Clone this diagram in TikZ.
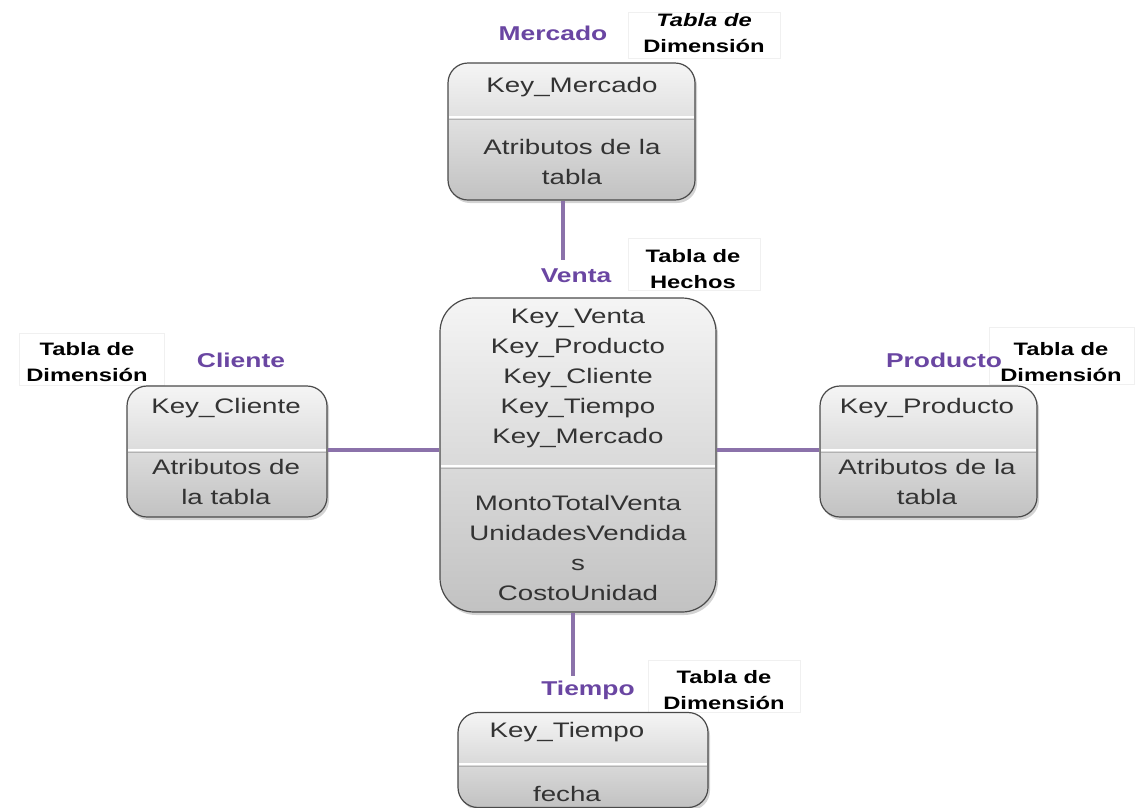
\documentclass[tikz,border=0pt]{standalone}
\usepackage{fontspec}
\setmainfont{Liberation Sans}
\newfontfamily\boxfont[FakeStretch=1.32]{Liberation Sans}
\usetikzlibrary{shadows}
\definecolor{boxtxt}{HTML}{333333}
\definecolor{purplelbl}{HTML}{6A46A2}
\definecolor{conn}{HTML}{8B72AA}
\definecolor{boxedge}{HTML}{4A4A4A}
\tikzset{
  tbl/.style={draw=boxedge, line width=1.2pt, rounded corners=20pt,
    top color=black!4, bottom color=black!24, inner sep=0pt,
    drop shadow={opacity=0.35, shadow xshift=2pt, shadow yshift=-3pt}},
  tt/.style={font=\boxfont\fontsize{21}{30}\selectfont, text=boxtxt, inner sep=0pt, align=center},
  plbl/.style={font=\boxfont\fontsize{20}{24}\selectfont\bfseries, text=purplelbl, inner sep=0pt},
  kind/.style={font=\boxfont\fontsize{18}{26.5}\selectfont\bfseries, text=black, inner sep=0pt, align=center},
  kindbox/.style={draw=black!6, fill=white, line width=0.6pt},
  divw/.style={white, line width=2.5pt},
  divg/.style={black!30, line width=0.6pt},
  link/.style={conn, line width=4pt}
}
\begin{document}
\begin{tikzpicture}[x=1pt,y=-1pt]
\useasboundingbox (0,0) rectangle (1135,807);
% faint label boxes
\node[kindbox, minimum width=152, minimum height=46] (kbm) at (704,35) {};
\node[kindbox, minimum width=132, minimum height=52] (kbv) at (694,264) {};
\node[kindbox, minimum width=145, minimum height=52] (kbc) at (92,359) {};
\node[kindbox, minimum width=145, minimum height=57] (kbp) at (1062,356) {};
\node[kindbox, minimum width=152, minimum height=52] (kbt) at (724,686) {};
% connector end points
\coordinate (vtop) at (563,260);
\coordinate (tbot) at (573,676);
% tables
\node[tbl, minimum width=247, minimum height=137] (mer) at (571.5,131.5) {};
\node[tbl, rounded corners=34pt, minimum width=276, minimum height=314] (ven) at (578,455) {};
\node[tbl, minimum width=200, minimum height=131] (cli) at (227,451.5) {};
\node[tbl, minimum width=217, minimum height=131] (pro) at (928.5,451.5) {};
\node[tbl, minimum width=250, minimum height=95] (tie) at (583,760) {};
\draw[link] (mer.south -| vtop) -- (vtop);
\draw[link] (ven.south -| tbot) -- (tbot);
\draw[link] (cli.east |- 0,450) -- (ven.west |- 0,450);
\draw[link] (ven.east |- 0,450) -- (pro.west |- 0,450);
% dividers
\draw[divw] (449,117) -- (694,117); \draw[divg] (449,119.5) -- (694,119.5);
\draw[divw] (441,466) -- (715,466); \draw[divg] (441,468.5) -- (715,468.5);
\draw[divw] (128,450) -- (326,450); \draw[divg] (128,452.5) -- (326,452.5);
\draw[divw] (821,450) -- (1036,450); \draw[divg] (821,452.5) -- (1036,452.5);
\draw[divw] (459,764) -- (707,764); \draw[divg] (459,766.5) -- (707,766.5);
% table texts
\node[tt] (m1) at (572,87) {Key\_Mercado};
\node[tt] (m2) at (572,162) {Atributos de la\\tabla};
\node[tt] (v1) at (578,378) {Key\_Venta\\Key\_Producto\\Key\_Cliente\\Key\_Tiempo\\Key\_Mercado};
\node[tt] (v2) at (578,548) {MontoTotalVenta\\UnidadesVendida\\s\\CostoUnidad};
\node[tt] (c1) at (226,408) {Key\_Cliente};
\node[tt] (c2) at (226,482) {Atributos de\\la tabla};
\node[tt] (p1) at (927,408) {Key\_Producto};
\node[tt] (p2) at (927,482) {Atributos de la\\tabla};
\node[tt] (t1) at (567,732) {Key\_Tiempo};
\node[tt] (t2) at (567,794) {fecha};
% purple labels
\node[plbl] (lm) at (553,33) {Mercado};
\node[plbl] (lv) at (576,276) {Venta};
\node[plbl] (lc) at (241,360) {Cliente};
\node[plbl] (lp) at (944,360) {Producto};
\node[plbl] (lt) at (588,690) {Tiempo};
% kind labels
\node[kind] (km) at (704,33) {{\itshape Tabla de}\\Dimensión};
\node[kind] (kv) at (693,269) {Tabla de\\Hechos};
\node[kind] (kc) at (87,362) {Tabla de\\Dimensión};
\node[kind] (kp) at (1061,362) {Tabla de\\Dimensión};
\node[kind] (kt) at (724,690) {Tabla de\\Dimensión};
\end{tikzpicture}
\end{document}
